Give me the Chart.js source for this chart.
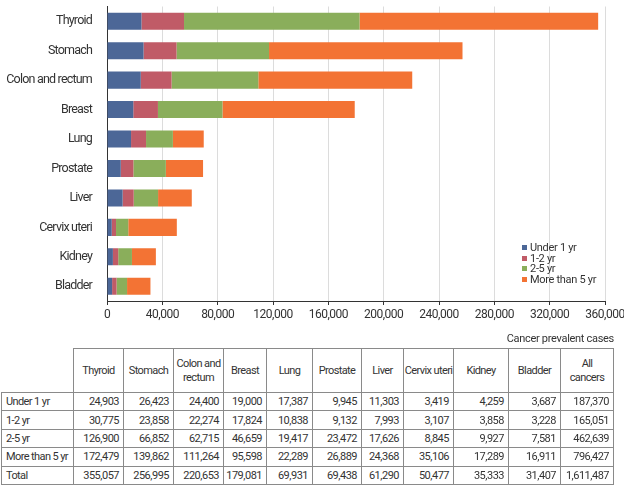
<!DOCTYPE html>
<html>
<head>
<meta charset="utf-8">
<script src="https://cdn.jsdelivr.net/npm/chart.js@4"></script>
<style>
  body { margin: 0; background: #fff; font-family: 'Roboto', sans-serif; color: #333; }
  #wrap { position: relative; width: 624px; height: 322px; }
  #legend { position: absolute; left: 522px; top: 243px; font-size: 11px; line-height: 10.6px; letter-spacing: -0.3px; }
  #legend span.box { display: inline-block; width: 5px; height: 5px; margin-right: 3px; vertical-align: 1px; }
  #caption { position: absolute; top: 332px; right: 10px; font-size: 11px; letter-spacing: -0.3px; }
  table { position: absolute; top: 348px; left: 1px; width: 612px; border-collapse: collapse; table-layout: fixed; font-size: 11px; letter-spacing: -0.5px; }
  td, th { border: 1px solid #8a8a8a; padding: 0 4px 0 1px; font-weight: normal; height: 17.4px; text-align: right; white-space: nowrap; overflow: hidden; }
  th { text-align: center; height: 43px; line-height: 14px; padding: 0; overflow: visible; letter-spacing: -0.6px; }
  th.blank { border-top: none; border-left: none; }
  td.lab { text-align: left; padding-left: 4px; letter-spacing: -0.6px; }
</style>
</head>
<body>
<div id="wrap"><canvas id="grafico"></canvas><div id="legend"></div></div>
<div id="caption">Cancer prevalent cases</div>
<table id="tabela"></table>
<script>
const categorias = ['Thyroid', 'Stomach', 'Colon and rectum', 'Breast', 'Lung', 'Prostate', 'Liver', 'Cervix uteri', 'Kidney', 'Bladder'];
const menos1 = [24903, 26423, 24400, 19000, 17387, 9945, 11303, 3419, 4259, 3687];
const de1a2 = [30775, 23858, 22274, 17824, 10838, 9132, 7993, 3107, 3858, 3228];
const de2a5 = [126900, 66852, 62715, 46659, 19417, 23472, 17626, 8845, 9927, 7581];
const mais5 = [172479, 139862, 111264, 95598, 22289, 26889, 24368, 35106, 17289, 16911];
const totais = [355057, 256995, 220653, 179081, 69931, 69438, 61290, 50477, 35333, 31407];
const todosCanceres = [187370, 165051, 462639, 796427, 1611487];
const series = ['Under 1 yr', '1-2 yr', '2-5 yr', 'More than 5 yr'];
const cores = ['#4c6797', '#c05b67', '#8aae5b', '#f37334'];
const ticksX = [0, 40000, 80000, 120000, 160000, 200000, 240000, 280000, 320000, 360000];

const fonte = "'Roboto', sans-serif";
const fmt = v => v.toLocaleString('en-US');
const valores = [menos1, de1a2, de2a5, mais5];

// deixa o texto do canvas um pouco mais estreito
const estreito = {
  id: 'estreito',
  beforeDraw: c => { c.ctx.letterSpacing = '-0.5px'; }
};

const ctx = document.getElementById('grafico');
new Chart(ctx, {
  type: 'bar',
  data: {
    labels: categorias,
    datasets: series.map((s, i) => ({
      label: s,
      data: valores[i],
      backgroundColor: cores[i],
      barPercentage: 0.58,
      categoryPercentage: 1
    }))
  },
  options: {
    indexAxis: 'y',
    responsive: true,
    maintainAspectRatio: false,
    animation: false,
    layout: { padding: { top: 6.5, right: 19, left: 0, bottom: 0 } },
    plugins: { legend: { display: false }, tooltip: { enabled: false } },
    scales: {
      x: {
        stacked: true,
        min: 0,
        max: 360000,
        afterBuildTicks: s => { s.ticks = ticksX.map(v => ({ value: v })); },
        afterFit: s => { s.height = 21; s.paddingLeft = 0; s.paddingRight = 0; },
        grid: { color: '#dcdcdc', tickColor: '#333', tickLength: 4 },
        border: { color: '#333', width: 1 },
        ticks: { color: '#333', font: { family: fonte, size: 12 }, padding: 3, maxRotation: 0, callback: v => fmt(v) }
      },
      y: {
        stacked: true,
        afterFit: s => {
          s.width = 107; s.paddingTop = 0; s.paddingBottom = 0;
          if (!s._estreito) {
            const original = s.drawLabels.bind(s);
            s.drawLabels = area => { s.ctx.letterSpacing = '-0.8px'; original(area); s.ctx.letterSpacing = '-0.5px'; };
            s._estreito = true;
          }
        },
        grid: { display: false },
        border: { color: '#333', width: 1 },
        ticks: { color: '#333', font: { family: fonte, size: 12.5 }, padding: 7 }
      }
    }
  },
  plugins: [estreito]
});

// legenda
document.getElementById('legend').innerHTML = series.map((s, i) =>
  '<div><span class="box" style="background:' + cores[i] + '"></span>' + s + '</div>').join('');

// tabela
const larguras = [72, 50, 50, 50, 43, 46, 49, 42, 50, 55, 52, 53];
let html = '<colgroup>' + larguras.map(w => '<col style="width:' + w + 'px">').join('') + '</colgroup>';
html += '<tr><th class="blank"></th>' + categorias.map(c => '<th>' + c.replace(' and ', ' and<br>') + '</th>').join('') + '<th>All<br>cancers</th></tr>';
const linhas = series.concat(['Total']);
const dadosLinhas = valores.concat([totais]);
linhas.forEach((l, r) => {
  html += '<tr><td class="lab">' + l + '</td>' + dadosLinhas[r].map(v => '<td>' + fmt(v) + '</td>').join('') +
    '<td>' + fmt(todosCanceres[r]) + '</td></tr>';
});
document.getElementById('tabela').innerHTML = html;
</script>
</body>
</html>
